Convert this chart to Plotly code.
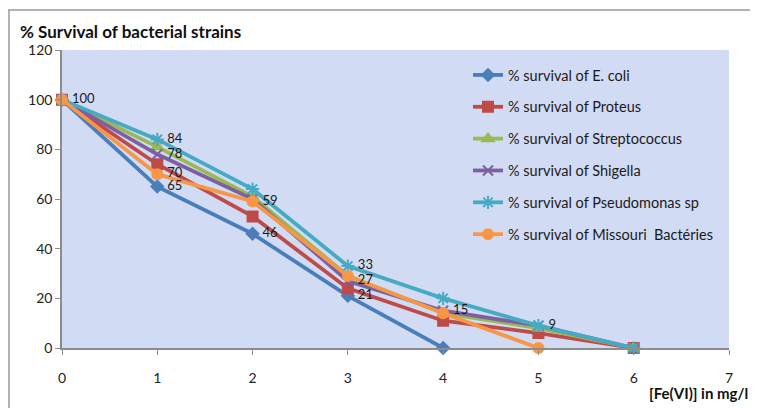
import plotly.graph_objects as go

# ---- data ----
doses = [0, 1, 2, 3, 4, 5, 6]
ecoli = [100, 65, 46, 21, 0]
proteus = [100, 74, 53, 24, 11, 6, 0]
strepto = [100, 81, 61, 29, 14, 8, 0]
shigella = [100, 78, 60, 27, 15, 9, 0]
pseudo = [100, 84, 64, 33, 20, 9, 0]
missouri = [100, 70, 59, 29, 14, 0]

# which points carry a data label (index list per series)
ecoli_lbl = [1, 2, 3]
proteus_lbl = []
strepto_lbl = []
shigella_lbl = [1, 3, 4, 5]
pseudo_lbl = [1, 3]
missouri_lbl = [0, 1, 2]

names = ["% survival of E. coli", "% survival of Proteus", "% survival of Streptococcus",
         "% survival of Shigella", "% survival of Pseudomonas sp", "% survival of Missouri  Bactéries"]
series = [ecoli, proteus, strepto, shigella, pseudo, missouri]
labels = [ecoli_lbl, proteus_lbl, strepto_lbl, shigella_lbl, pseudo_lbl, missouri_lbl]
colors = ["#4A7EBB", "#BE4B48", "#98B954", "#7D60A0", "#46AAC5", "#F79646"]
symbols = ["diamond", "square", "triangle-up", "x-thin-open", "asterisk-open", "circle"]
msizes = [9, 10, 10, 10, 11, 10]

fig = go.Figure()
for i, (nm, vals, c, sym, ms) in enumerate(zip(names, series, colors, symbols, msizes)):
    xs = doses[:len(vals)]
    fig.add_trace(go.Scatter(
        x=xs, y=vals, name=nm, mode="lines+markers",
        line=dict(color=c, width=3.8),
        marker=dict(symbol=sym, size=ms, color=c, line=dict(color=c, width=2)),
        cliponaxis=False, legendgroup=f"g{i}",
    ))

# data labels drawn on top of all lines
PAD = "\u00a0\u00a0\u00a0"
for i, (vals, lb) in enumerate(zip(series, labels)):
    if not lb:
        continue
    fig.add_trace(go.Scatter(
        x=[doses[j] for j in lb], y=[vals[j] for j in lb],
        text=[PAD + str(vals[j]) for j in lb], mode="text", textposition="middle right",
        textfont=dict(family="Lato, Open Sans, sans-serif", size=13, color="#1a1a1a"),
        showlegend=False, hoverinfo="skip", cliponaxis=False,
    ))

OFF = 8  # page body margin
W, H = 758 - OFF, 408 - OFF
L, R, T, B = 62 - OFF, 729 - OFF, 50 - OFF, 348 - OFF
pw, ph = R - L, B - T

def px(x):
    return (x - OFF - L) / pw

def py(y):
    return (B - (y - OFF)) / ph

fig.update_layout(
    width=W, height=H,
    margin=dict(l=L, r=W - R, t=T, b=H - B),
    paper_bgcolor="white",
    plot_bgcolor="#d2dbf4",
    font=dict(family="Lato, Open Sans, sans-serif", size=13, color="#222"),
    showlegend=True,
    legend=dict(x=px(468), y=py(59), xanchor="left", yanchor="top",
                bgcolor="rgba(0,0,0,0)", font=dict(size=14.5, color="#1a1a1a"),
                tracegroupgap=10, itemwidth=30),
    xaxis=dict(range=[0, 7], dtick=1, tick0=0, showgrid=False, zeroline=False,
               showline=True, linecolor="#8c8c8c", linewidth=1.5,
               ticks="outside", ticklen=5, tickcolor="#8c8c8c",
               ticklabelstandoff=11, tickfont=dict(size=14, color="#222")),
    yaxis=dict(range=[0, 120], dtick=20, tick0=0, showgrid=False, zeroline=False,
               showline=True, linecolor="#8c8c8c", linewidth=1.5,
               ticks="outside", ticklen=5, tickcolor="#8c8c8c",
               tickfont=dict(size=14, color="#222")),
    annotations=[
        dict(text="<b>% Survival of bacterial strains</b>", xref="paper", yref="paper",
             x=px(18), y=py(32), xanchor="left", yanchor="middle", showarrow=False,
             font=dict(size=17, color="#111")),
        dict(text="<b>[Fe(VI)] in mg/l</b>", xref="paper", yref="paper",
             x=px(750), y=py(393), xanchor="right", yanchor="middle", showarrow=False,
             font=dict(size=15, color="#111")),
    ],
    shapes=[
        dict(type="line", xref="paper", yref="paper", x0=px(8), x1=px(758), y0=py(10), y1=py(10),
             line=dict(color="#9a9a9a", width=1.5)),
        dict(type="line", xref="paper", yref="paper", x0=px(9), x1=px(9), y0=py(10), y1=py(408),
             line=dict(color="#9a9a9a", width=1.5)),
    ],
)

fig.write_html("out.html")
